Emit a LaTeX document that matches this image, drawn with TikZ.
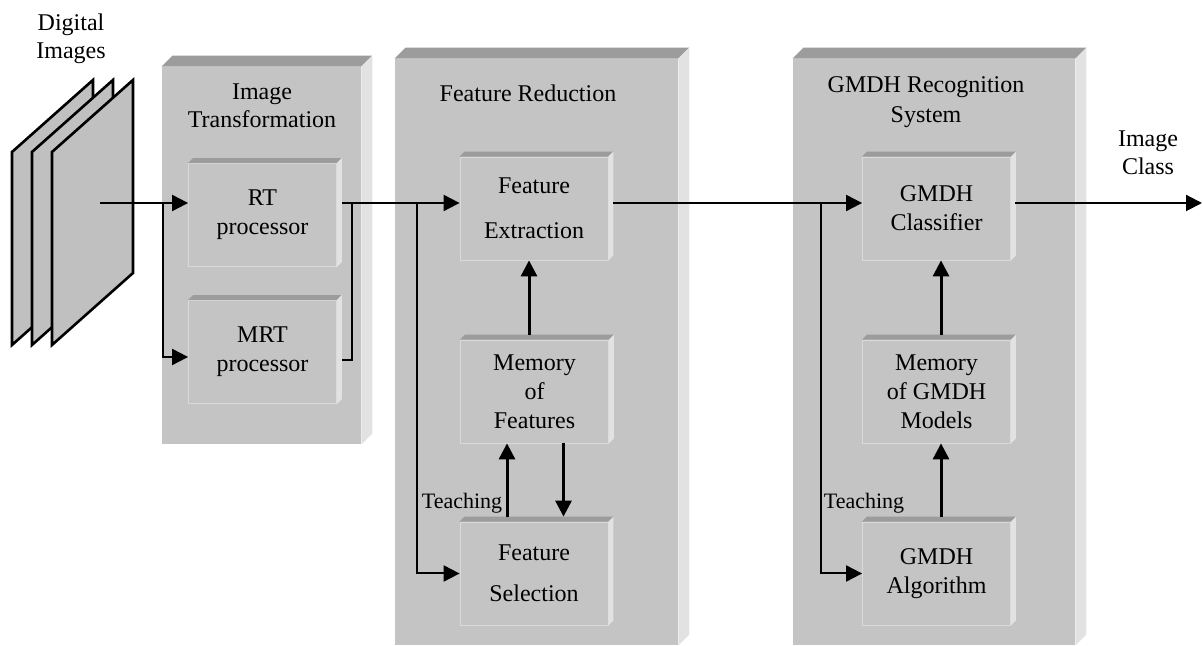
\documentclass[tikz,border=0pt]{standalone}
\usepackage{fontspec}
\setmainfont{Liberation Serif}
\usepackage{xcolor}
\usetikzlibrary{arrows.meta}
\definecolor{panelgray}{HTML}{C4C4C4}
\definecolor{topgray}{HTML}{9C9C9C}
\definecolor{sidegray}{HTML}{E2E2E2}
\definecolor{edgegray}{HTML}{DADADA}
\definecolor{sheetgray}{HTML}{C0C0C0}

\begin{document}
\begin{tikzpicture}[x=0.5pt,y=0.5pt,>={Triangle[length=8pt,width=8pt]},
  panel/.style={fill=panelgray,inner sep=0pt},
  block/.style={fill=panelgray,draw=edgegray,line width=0.4pt,inner sep=0pt,
    minimum width=74pt,minimum height=51.5pt,align=center,
    font=\fontsize{12}{14.5}\selectfont},
  paneltitle/.style={align=center,font=\fontsize{12}{14}\selectfont},
  teach/.style={font=\fontsize{11}{13}\selectfont},
  conn/.style={line width=1pt},
  feed/.style={line width=1.5pt}]
\useasboundingbox (0,0) rectangle (1203,646);
%%%PANELS
\node[panel,minimum width=99.5pt,minimum height=188.5pt] (imgtr) at (261.5,390.5) {};
\node[panel,minimum width=141.5pt,minimum height=293pt] (featred) at (536.5,294) {};
\node[panel,minimum width=141pt,minimum height=293pt] (gmdhsys) at (934,294) {};
\foreach \n in {imgtr,featred,gmdhsys}{
  \fill[topgray] (\n.north west) -- ++(11,11) -- ([shift={(11,11)}]\n.north east) -- (\n.north east) -- cycle;
  \fill[sidegray] (\n.north east) -- ++(11,11) -- ([shift={(11,11)}]\n.south east) -- (\n.south east) -- cycle;
}
\node[paneltitle] (imgtrt) at (262,540) {Image\\Transformation};
\node[paneltitle] (featredt) at (528,553) {Feature Reduction};
\node[paneltitle,font=\fontsize{12}{15}\selectfont] (gmdhsyst) at (926,544) {GMDH Recognition\\System};
%%%BLOCKS
\node[block] (rt) at (262.5,431) {RT\\processor};
\node[block] (mrt) at (262.5,294) {MRT\\processor};
\node[block] (fe) at (534,437.5) {Feature\\[8pt]Extraction};
\node[block] (memf) at (534.5,254.5) {Memory\\of\\Features};
\node[block] (fs) at (534,72.5) {Feature\\[6pt]Selection};
\node[block] (gc) at (936.5,437.5) {GMDH\\Classifier};
\node[block] (memg) at (936.5,254.5) {Memory\\of GMDH\\Models};
\node[block] (ga) at (936.5,72.5) {GMDH\\Algorithm};
\foreach \n in {rt,mrt,fe,memf,fs,gc,memg,ga}{
  \fill[topgray] (\n.north west) -- ++(5,5) -- ([shift={(5,5)}]\n.north east) -- (\n.north east) -- cycle;
  \fill[sidegray] (\n.north east) -- ++(5,5) -- ([shift={(5,5)}]\n.south east) -- (\n.south east) -- cycle;
}
%%%SHEETS
\foreach \s in {0,20,40}
  \filldraw[fill=sheetgray,line width=1.3pt] (12+\s,494) -- (93+\s,566) -- (93+\s,373) -- (12+\s,301) -- cycle;
\node[paneltitle] (digimg) at (71,607) {Digital\\Images};
\node[paneltitle] (imgcls) at (1148,493) {Image\\Class};
\node[teach] (teach1) at (462,143) {Teaching};
\node[teach] (teach2) at (864,143) {Teaching};
%%%CONNECTIONS
\coordinate (imgsrc) at (100,443);
\coordinate (split1) at (163,443);
\coordinate (rtout) at (342,443);
\coordinate (mrtout) at (342,286);
\coordinate (join1) at (352,443);
\coordinate (split2) at (417,443);
\coordinate (feout) at (613,443);
\coordinate (split3) at (821,443);
\coordinate (gcout) at (1015,443);
\coordinate (clsend) at (1202,443);
\draw[->,conn] (imgsrc) -- (imgsrc -| rt.west);
\draw[->,conn] (split1) |- ([yshift=-2.5pt]mrt.west);
\draw[conn] (mrtout) -| (join1);
\draw[->,conn] (rtout) -- (rtout -| fe.west);
\draw[->,conn] (split2) |- (fs.west);
\draw[->,conn] (feout) -- (feout -| gc.west);
\draw[->,conn] (split3) |- (ga.west);
\draw[->,conn] (gcout) -- (clsend);
\draw[->,feed] ([xshift=-2.75pt,yshift=2.5pt]memf.north) -- ([xshift=-2.75pt]memf.north |- fe.south);
\draw[->,feed] ([xshift=-13.5pt,yshift=2.5pt]fs.north) -- ([xshift=-13.5pt]fs.north |- memf.south);
\draw[->,feed] ([xshift=14.5pt]memf.south) -- ([xshift=14.5pt,yshift=2.5pt]memf.south |- fs.north);
\draw[->,feed] ([xshift=2.25pt,yshift=2.5pt]memg.north) -- ([xshift=2.25pt]memg.north |- gc.south);
\draw[->,feed] ([xshift=2.25pt,yshift=2.5pt]ga.north) -- ([xshift=2.25pt]ga.north |- memg.south);
\end{tikzpicture}
\end{document}
